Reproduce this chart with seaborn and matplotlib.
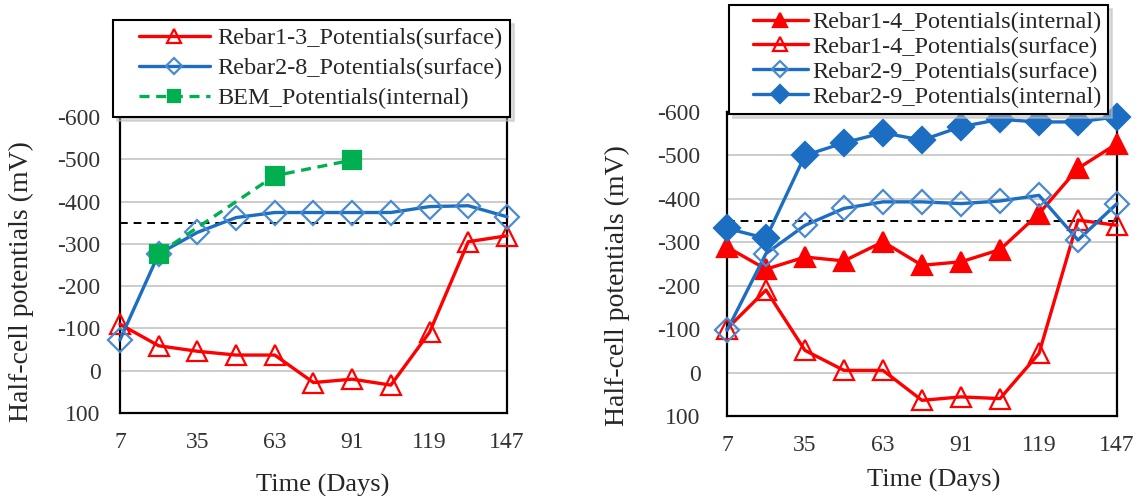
import matplotlib
matplotlib.use("Agg")
import numpy as np
import pandas as pd
import seaborn as sns
from matplotlib import pyplot as plt
from matplotlib.lines import Line2D
from matplotlib.legend_handler import HandlerLine2D

# Sampling days (x axis)
days = [7, 21, 35, 49, 63, 77, 91, 105, 119, 133, 147]

# Left panel series (mV, negative = more corrosive, plotted upward)
rebar1_3_surface = [-110, -59, -46, -37, -37, 28, 20, 34, -91, -305, -319]
rebar2_8_surface = [-73, -276, -327, -362, -374, -374, -374, -374, -388, -390, -364]
bem_days = [21, 63, 91]
bem_internal = [-277, -461, -498]

# Right panel series
rebar1_4_internal = [-289, -238, -266, -257, -301, -247, -255, -283, -366, -470, -527]
rebar1_4_surface = [-101, -190, -51, -5, -5, 64, 56, 60, -44, -351, -339]
rebar2_9_surface = [-97, -274, -339, -378, -393, -393, -389, -395, -408, -305, -389]
rebar2_9_internal = [-332, -309, -500, -529, -552, -535, -566, -583, -577, -577, -589]

threshold = -350  # -350 mV line
x_ticks = [7, 35, 63, 91, 119, 147]
y_ticks = [-600, -500, -400, -300, -200, -100, 0, 100]
y_tick_labels = ["-600", "-500", "-400", "-300", "-200", "-100", "0", "100"]

RED = "#ff0000"
BLUE = "#1b6ec2"
LBLUE = "#4a8ad0"
GREEN = "#00b050"

sns.set_style("white")
plt.rcParams["font.family"] = ["Liberation Serif", "DejaVu Serif"]
plt.rcParams["axes.unicode_minus"] = False

fig = plt.figure(figsize=(11.37, 4.96), dpi=100)
ax1 = fig.add_axes([0.1055, 0.1673, 0.3404, 0.597])
ax2 = fig.add_axes([0.6394, 0.1613, 0.343, 0.613])


def style_axes(ax, ypad):
    ax.set_xlim(7, 147)
    ax.set_ylim(100, -600)
    ax.set_xticks(x_ticks)
    ax.set_xticklabels([str(t) for t in x_ticks])
    ax.set_yticks(y_ticks)
    ax.set_yticklabels(y_tick_labels)
    ax.grid(axis="y", color="#c4c4c4", linewidth=1.2)
    ax.grid(axis="x", visible=False)
    ax.set_axisbelow(True)
    for s in ax.spines.values():
        s.set_color("black")
        s.set_linewidth(1.6)
    ax.tick_params(axis="x", direction="in", length=6, width=1.2, pad=14,
                   labelsize=17, labelcolor="#333333")
    ax.tick_params(axis="y", direction="in", length=0, pad=ypad,
                   labelsize=17, labelcolor="#333333")
    ax.axhline(threshold, color="black", linestyle=(0, (4, 3)), linewidth=1.4, zorder=1.5)
    ax.set_xlabel("Time (Days)", fontsize=19)
    ax.set_ylabel("Half-cell potentials (mV)", fontsize=20)


def draw(ax, x, y, color, marker, ms, face, label, ls="-", ec=None):
    sns.lineplot(x=x, y=y, ax=ax, color=color, linewidth=2.4, linestyle=ls,
                 marker=marker, markersize=ms, markerfacecolor=face,
                 markeredgecolor=ec if ec else color, markeredgewidth=1.6,
                 label=label, clip_on=False, zorder=3)


# Left panel
draw(ax1, days, rebar1_3_surface, RED, "^", 15, "none", "Rebar1-3_Potentials(surface)")
draw(ax1, days, rebar2_8_surface, BLUE, "D", 12, "none", "Rebar2-8_Potentials(surface)", ec=LBLUE)
draw(ax1, bem_days, bem_internal, GREEN, "s", 13, GREEN, "BEM_Potentials(internal)", ls=(0, (3, 2)))
style_axes(ax1, 14)
ax1.xaxis.set_label_coords(0.525, -0.205)
ax1.yaxis.set_label_coords(-0.222, 0.443)

# Right panel
draw(ax2, days, rebar1_4_internal, RED, "^", 15, RED, "Rebar1-4_Potentials(internal)")
draw(ax2, days, rebar1_4_surface, RED, "^", 15, "none", "Rebar1-4_Potentials(surface)")
draw(ax2, days, rebar2_9_surface, BLUE, "D", 12, "none", "Rebar2-9_Potentials(surface)", ec=LBLUE)
draw(ax2, days, rebar2_9_internal, BLUE, "D", 13, BLUE, "Rebar2-9_Potentials(internal)")
style_axes(ax2, 19)
ax2.xaxis.set_label_coords(0.53, -0.175)
ax2.yaxis.set_label_coords(-0.25, 0.43)

shadow = {"ox": 3, "oy": -3, "color": "0.75"}
ax1.legend(loc="upper left", bbox_to_anchor=(0.0994, 0.96), bbox_transform=fig.transFigure,
           fontsize=17.5, frameon=True, fancybox=False, shadow=shadow, edgecolor="black",
           framealpha=1, handlelength=3.7, labelspacing=0.33, borderpad=0.3,
           handletextpad=0.3, borderaxespad=0, markerscale=0.7,
           handler_map={Line2D: HandlerLine2D(xpad=0.75)})
ax1.get_legend().get_frame().set_linewidth(1.5)
ax2.legend(loc="upper left", bbox_to_anchor=(0.641, 0.99), bbox_transform=fig.transFigure,
           fontsize=17.5, frameon=True, fancybox=False, shadow=shadow, edgecolor="black",
           framealpha=1, handlelength=3.0, labelspacing=0.12, borderpad=0.25,
           handletextpad=0.2, borderaxespad=0, markerscale=0.7,
           handler_map={Line2D: HandlerLine2D(xpad=0.75)})
ax2.get_legend().get_frame().set_linewidth(1.5)

fig.savefig("out.png", dpi=100)
